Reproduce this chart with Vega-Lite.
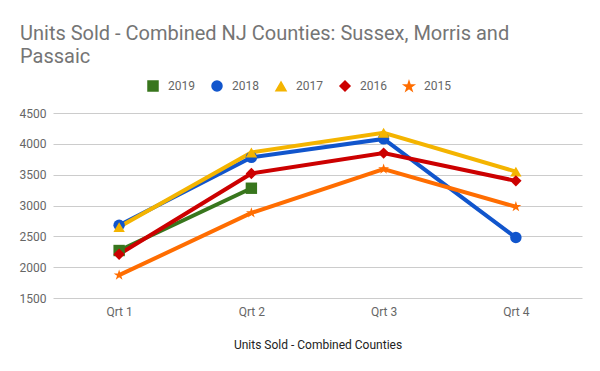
{
  "$schema": "https://vega.github.io/schema/vega-lite/v6.json",
  "width": 529,
  "height": 185,
  "autosize": {"type": "none"},
  "padding": {"left": 53, "top": 113, "right": 18, "bottom": 73},
  "background": "white",
  "title": {
    "text": ["Units Sold - Combined NJ Counties: Sussex, Morris and", "Passaic"],
    "anchor": "start",
    "frame": "group",
    "font": "Roboto",
    "fontSize": 20,
    "fontWeight": "normal",
    "color": "#757575",
    "lineHeight": 23.5,
    "dx": -33,
    "dy": -9,
    "orient": "top"
  },
  "config": {
    "view": {"stroke": null},
    "font": "Roboto",
    "axis": {"labelFont": "Roboto", "titleFont": "Roboto"},
    "legend": {"labelFont": "Roboto"}
  },
  "data": {
    "values": [
      {"Quarter": "Qrt 1", "Year": "2019", "Units": 2270},
      {"Quarter": "Qrt 2", "Year": "2019", "Units": 3280},
      {"Quarter": "Qrt 1", "Year": "2018", "Units": 2680},
      {"Quarter": "Qrt 2", "Year": "2018", "Units": 3780},
      {"Quarter": "Qrt 3", "Year": "2018", "Units": 4080},
      {"Quarter": "Qrt 4", "Year": "2018", "Units": 2480},
      {"Quarter": "Qrt 1", "Year": "2017", "Units": 2650},
      {"Quarter": "Qrt 2", "Year": "2017", "Units": 3860},
      {"Quarter": "Qrt 3", "Year": "2017", "Units": 4180},
      {"Quarter": "Qrt 4", "Year": "2017", "Units": 3550},
      {"Quarter": "Qrt 1", "Year": "2016", "Units": 2210},
      {"Quarter": "Qrt 2", "Year": "2016", "Units": 3520},
      {"Quarter": "Qrt 3", "Year": "2016", "Units": 3850},
      {"Quarter": "Qrt 4", "Year": "2016", "Units": 3400},
      {"Quarter": "Qrt 1", "Year": "2015", "Units": 1870},
      {"Quarter": "Qrt 2", "Year": "2015", "Units": 2880},
      {"Quarter": "Qrt 3", "Year": "2015", "Units": 3590},
      {"Quarter": "Qrt 4", "Year": "2015", "Units": 2980}
    ]
  },
  "encoding": {
    "x": {
      "field": "Quarter",
      "type": "ordinal",
      "scale": {"type": "point", "padding": 0.5},
      "axis": {
        "title": "Units Sold - Combined Counties",
        "labelAngle": 0,
        "domain": false,
        "ticks": false,
        "grid": false,
        "labelFontSize": 12,
        "labelColor": "#666666",
        "labelPadding": 8,
        "titleFontSize": 12,
        "titleFontWeight": "normal",
        "titleColor": "#222222",
        "titlePadding": 22
      }
    },
    "y": {
      "field": "Units",
      "type": "quantitative",
      "scale": {"domain": [1500, 4500], "nice": false, "zero": false},
      "axis": {
        "title": null,
        "values": [1500, 2000, 2500, 3000, 3500, 4000, 4500],
        "format": "d",
        "domain": false,
        "ticks": false,
        "gridColor": "#cccccc",
        "labelFontSize": 12,
        "labelColor": "#666666",
        "labelPadding": 7
      }
    }
  },
  "layer": [
    {
      "mark": {"type": "line", "strokeWidth": 4},
      "encoding": {
        "color": {
          "field": "Year",
          "type": "nominal",
          "sort": ["2019", "2018", "2017", "2016", "2015"],
          "scale": {
            "domain": ["2019", "2018", "2017", "2016", "2015"],
            "range": ["#38761d", "#1155cc", "#f4b400", "#cc0000", "#ff6d01"]
          },
          "legend": {
            "title": null,
            "orient": "none",
            "direction": "horizontal",
            "legendX": 94,
            "legendY": -33,
            "symbolSize": 100,
            "labelFontSize": 12,
            "labelColor": "#666666",
            "labelOffset": 9,
            "columnPadding": 14
          }
        }
      }
    },
    {
      "mark": {"type": "point", "filled": true, "opacity": 1, "size": 130},
      "encoding": {
        "color": {
          "field": "Year",
          "type": "nominal",
          "sort": ["2019", "2018", "2017", "2016", "2015"],
          "scale": {
            "domain": ["2019", "2018", "2017", "2016", "2015"],
            "range": ["#38761d", "#1155cc", "#f4b400", "#cc0000", "#ff6d01"]
          },
          "legend": {
            "title": null,
            "orient": "none",
            "direction": "horizontal",
            "legendX": 94,
            "legendY": -33,
            "symbolSize": 100,
            "labelFontSize": 12,
            "labelColor": "#666666",
            "labelOffset": 9,
            "columnPadding": 14
          }
        },
        "shape": {
          "field": "Year",
          "type": "nominal",
          "sort": ["2019", "2018", "2017", "2016", "2015"],
          "scale": {
            "domain": ["2019", "2018", "2017", "2016", "2015"],
            "range": ["square", "circle", "triangle-up", "diamond", "M0,-1L0.2245,-0.309L0.951,-0.309L0.363,0.118L0.588,0.809L0,0.382L-0.588,0.809L-0.363,0.118L-0.951,-0.309L-0.2245,-0.309Z"]
          },
          "legend": {
            "title": null,
            "orient": "none",
            "direction": "horizontal",
            "legendX": 94,
            "legendY": -33,
            "symbolSize": 100,
            "labelFontSize": 12,
            "labelColor": "#666666",
            "labelOffset": 9,
            "columnPadding": 14
          }
        }
      }
    }
  ]
}
